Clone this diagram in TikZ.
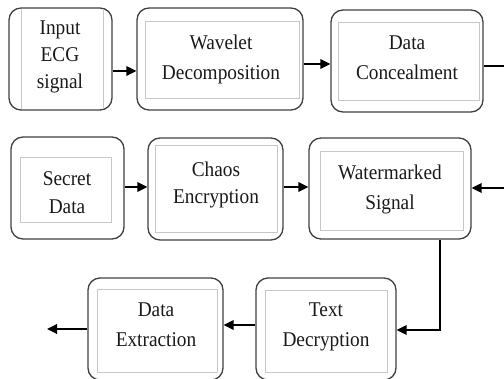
\documentclass[tikz,border=0pt]{standalone}
\usepackage{fontspec}
\setmainfont[FakeStretch=0.92]{Liberation Serif}
\usetikzlibrary{arrows.meta}
\begin{document}
\begin{tikzpicture}[x=1pt,y=-1pt,
  outerbox/.style={draw=black!75, line width=1.3pt, rounded corners=12pt, inner sep=0pt},
  innerbox/.style={draw=black!22, line width=0.8pt},
  lbl/.style={align=center, inner sep=0pt, text=black!90, font=\fontsize{21}{#1}\selectfont},
  lbl/.default=30,
  arr/.style={line width=1.8pt, -{Triangle[length=10pt,width=9.5pt]}},
  ln/.style={line width=1.8pt}]
\useasboundingbox (0,0) rectangle (504,379);

% outer boxes
\node[outerbox, minimum width=103pt, minimum height=102pt] (in) at (60.5,59) {};
\node[outerbox, minimum width=166pt, minimum height=102pt] (wav) at (220,59) {};
\node[outerbox, minimum width=152pt, minimum height=102pt] (dc) at (407,61) {};
\node[outerbox, minimum width=113pt, minimum height=102pt] (sd) at (67.5,188) {};
\node[outerbox, minimum width=135pt, minimum height=102pt] (ce) at (215.5,189) {};
\node[outerbox, minimum width=162pt, minimum height=101pt] (wm) at (390,188.5) {};
\node[outerbox, minimum width=140pt, minimum height=102pt] (td) at (326,329) {};
\node[outerbox, minimum width=135pt, minimum height=102pt] (de) at (155.5,329) {};

% inner rectangles
\draw[innerbox] (21,9) -- (21,109) (103,9) -- (103,109);
\draw[innerbox] (145,21) rectangle (299,98);
\draw[innerbox] (338,22) rectangle (479,100);
\draw[innerbox] (20,157) rectangle (111,222);
\draw[innerbox] (155,145) rectangle (277,232);
\draw[innerbox] (320,151) rectangle (463,230);
\draw[innerbox] (265,290) rectangle (387,372);
\draw[innerbox] (97,289) rectangle (217,372);

% labels
\node[lbl=27] (inT) at (60,57) {Input\\ECG\\signal};
\node[lbl] (wavT) at (221,59) {Wavelet\\Decomposition};
\node[lbl] (dcT) at (407,58) {Data\\Concealment};
\node[lbl=28] (sdT) at (67,193) {Secret\\Data};
\node[lbl=27] (ceT) at (216,185) {Chaos\\Encryption};
\node[lbl] (wmT) at (390,189) {Watermarked\\Signal};
\node[lbl] (tdT) at (326,327) {Text\\Decryption};
\node[lbl] (deT) at (156,325) {Data\\Extraction};

% free ends and bends
\coordinate (r1) at (504,66);
\coordinate (r2) at (504,188);
\coordinate (l1) at (47,329);
\coordinate (turn) at (440,330);

% connectors
\draw[arr] (in.east |- 0,71) -- (wav.west |- 0,71);
\draw[arr] (wav.east |- 0,64) -- (dc.west |- 0,64);
\draw[ln] (dc.east |- r1) -- (r1);
\draw[arr] (sd.east |- 0,187) -- (ce.west |- 0,187);
\draw[arr] (ce.east |- 0,187) -- (wm.west |- 0,187);
\draw[arr] (r2) -- (wm.east |- r2);
\draw[arr] (wm.south -| turn) -- (turn) -- (td.east |- turn);
\draw[arr] (td.west |- 0,325) -- (de.east |- 0,325);
\draw[arr] (de.west |- l1) -- (l1);
\end{tikzpicture}
\end{document}
